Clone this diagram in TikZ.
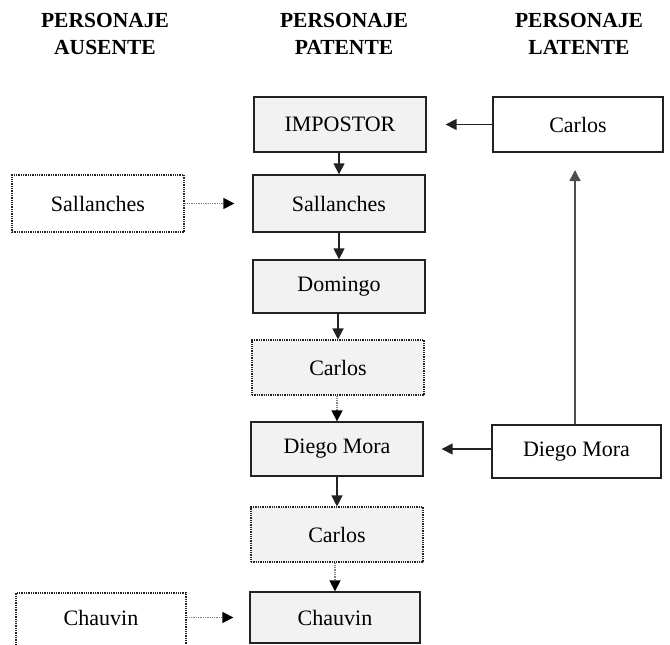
\documentclass[tikz,border=0pt]{standalone}
\usepackage{fontspec}
\setmainfont{Liberation Serif}
\usetikzlibrary{arrows.meta}
\definecolor{boxgray}{HTML}{F2F2F2}
\definecolor{edge}{HTML}{222222}
\begin{document}
\begin{tikzpicture}[x=1pt,y=-1pt,
  every node/.style={font=\fontsize{22}{27}\selectfont, text=black},
  base/.style={rectangle, minimum width=172pt, minimum height=55pt, inner sep=0pt, line width=1.3pt, draw=edge},
  gbox/.style={base, fill=boxgray},
  dgbox/.style={base, fill=boxgray, densely dotted, line width=1.1pt},
  wbox/.style={base, fill=white},
  dwbox/.style={base, fill=white, densely dotted, line width=1.1pt},
  hdr/.style={align=center, font=\fontsize{21.5}{27}\selectfont\bfseries},
  arr/.style={line width=1.4pt, draw=edge, -{Triangle[length=11pt,width=11pt]}},
  darr/.style={line width=1.3pt, draw=gray, densely dotted, -{Triangle[length=11pt,width=11pt,color=black,fill=black]}},
]
\useasboundingbox (0,0) rectangle (670,645);
\clip (0,0) rectangle (670,645);
% headers
\node[hdr] (h1) at (105,34) {PERSONAJE\\AUSENTE};
\node[hdr] (h2) at (344,34) {PERSONAJE\\PATENTE};
\node[hdr] (h3) at (579,34) {PERSONAJE\\LATENTE};
% center column
\node[gbox] (imp) at (340,124.5) {IMPOSTOR};
\node[gbox, minimum height=57pt] (sal) at (339,203.5) {Sallanches};
\node[gbox, minimum height=53pt] (dom) at (339,286.5) {Domingo};
\node[dgbox] (car1) at (338,367.5) {Carlos};
\node[gbox, minimum height=54pt] (die) at (337,449) {Diego Mora};
\node[dgbox] (car2) at (337,534.5) {Carlos};
\node[gbox, minimum width=170pt, minimum height=51pt] (cha) at (335,617.5) {Chauvin};
% right column
\node[wbox, minimum width=170pt] (carR) at (578,124.5) {Carlos};
\node[wbox, minimum width=169pt, minimum height=53pt] (dieR) at (576.5,451.5) {Diego Mora};
% left column
\node[dwbox, minimum height=57pt] (salL) at (98,203.5) {Sallanches};
\node[dwbox, minimum width=170pt, minimum height=60pt] (chaL) at (101,623) {};
\node (chaLt) at (101,617.5) {Chauvin};
% connectors
\draw[arr] (sal.north |- imp.south) -- (sal.north);
\draw[arr] (sal.south) -- (sal.south |- dom.north);
\draw[arr] (dom.south -| car1.north) -- (car1.north);
\draw[darr] (car1.south -| die.north) -- (die.north);
\draw[arr] (die.south) -- (car2.north);
\draw[darr] (car2.south -| cha.north) -- (cha.north);
\draw[arr, shorten >=19pt] (carR.west) -- (carR.west -| imp.east);
\draw[arr, shorten >=18pt] (dieR.west |- die) -- (die.east);
\coordinate (up) at (575,170);
\draw[arr, draw=edge!80] (dieR.north -| up) -- (up);
\draw[darr, shorten >=18pt] (salL) -- (sal);
\draw[darr, shorten >=16pt] (chaL.east |- cha) -- (cha);
\end{tikzpicture}
\end{document}
